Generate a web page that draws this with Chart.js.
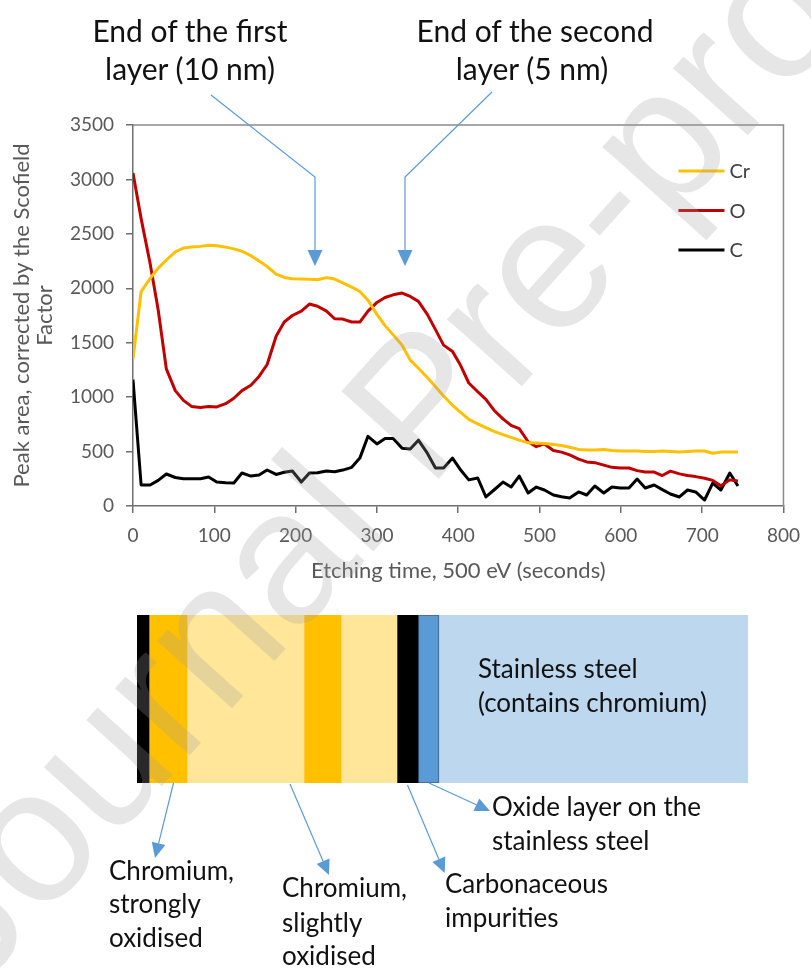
<!DOCTYPE html>
<html><head><meta charset="utf-8">
<script src="https://cdn.jsdelivr.net/npm/chart.js@4.4.1/dist/chart.umd.min.js"></script>
<style>
html,body{margin:0;padding:0;background:#fff;}
#wrap{position:relative;width:811px;height:968px;overflow:hidden;font-family:Lato,sans-serif;color:#111;}
.t{position:absolute;white-space:nowrap;line-height:1;}
.top{font-size:30px;width:360px;text-align:center;}
.low{font-size:26px;}
#wm{position:absolute;left:418px;top:403px;transform:translate(-50%,-50%) rotate(-48deg);font-family:"Liberation Sans",Arial,sans-serif;font-size:190px;line-height:1;white-space:nowrap;color:rgba(157,157,157,0.26);pointer-events:none;z-index:10;}
</style></head><body>
<div id="wrap">
<canvas id="main" width="811" height="600" style="position:absolute;left:0;top:0"></canvas>
<canvas id="layers" width="611" height="168" style="position:absolute;left:137px;top:615px"></canvas>
<svg id="arrows" width="811" height="968" style="position:absolute;left:0;top:0;overflow:visible"></svg>

<div class="t top" style="left:10px;top:15px">End of the first</div>
<div class="t top" style="left:10px;top:53px">layer (10 nm)</div>
<div class="t top" style="left:355px;top:15px">End of the second</div>
<div class="t top" style="left:352px;top:53px">layer (5 nm)</div>

<div class="t low" style="left:478px;top:655px">Stainless steel</div>
<div class="t low" style="left:478px;top:689px">(contains chromium)</div>
<div class="t low" style="left:492px;top:793px">Oxide layer on the</div>
<div class="t low" style="left:492px;top:827px">stainless steel</div>
<div class="t low" style="left:109px;top:857px">Chromium,</div>
<div class="t low" style="left:109px;top:890px">strongly</div>
<div class="t low" style="left:109px;top:924px">oxidised</div>
<div class="t low" style="left:282px;top:874px">Chromium,</div>
<div class="t low" style="left:282px;top:909px">slightly</div>
<div class="t low" style="left:282px;top:942px">oxidised</div>
<div class="t low" style="left:445px;top:870px">Carbonaceous</div>
<div class="t low" style="left:445px;top:904px">impurities</div>

<div id="wm">Journal Pre-proof</div>
</div>
<script>
// ---- data ----
const times = [0,10,21,31,41,52,62,72,83,93,
  103,114,124,134,145,155,165,176,186,196,
  207,217,227,238,248,258,269,279,289,300,
  310,320,331,341,351,362,372,382,393,403,
  413,424,434,444,455,465,475,486,496,506,
  517,527,537,548,558,568,579,589,599,610,
  620,630,641,651,661,672,682,692,703,713,
  723,734,744];
const crArea = [1350,1970,2090,2185,2260,2335,2370,2380,2385,2395,
  2390,2378,2362,2340,2300,2250,2200,2130,2100,2088,
  2085,2082,2078,2098,2085,2050,2010,1970,1890,1760,
  1657,1572,1477,1340,1265,1180,1095,1010,925,860,
  795,755,720,685,655,630,605,580,578,575,
  565,555,540,520,515,515,520,510,505,505,
  505,500,500,505,500,495,500,505,505,485,
  495,495,495];
const oArea = [3060,2640,2230,1800,1260,1060,970,915,905,915,
  910,940,990,1060,1110,1190,1300,1560,1690,1750,
  1790,1855,1835,1790,1720,1717,1690,1690,1790,1870,
  1915,1940,1956,1925,1880,1760,1620,1478,1420,1290,
  1130,1050,980,880,800,740,710,590,545,570,
  510,495,470,430,405,398,375,355,350,349,
  325,312,312,280,320,295,280,270,255,235,
  185,240,230];
const cArea = [1160,193,193,235,294,262,250,250,250,266,
  220,213,211,303,275,285,331,290,310,321,
  220,303,305,321,315,330,355,440,640,570,
  620,620,530,523,605,485,350,350,440,330,
  240,257,83,147,220,174,275,119,174,147,
  101,85,73,129,101,184,119,174,165,165,
  248,165,193,150,110,83,147,129,55,211,
  147,303,184];
const seriesNames = ['Cr','O','C'];
const yTickValues = [0,500,1000,1500,2000,2500,3000,3500];
const xTickValues = [0,100,200,300,400,500,600,700,800];
const layerNames = ['Carbonaceous (surface)','Chromium, strongly oxidised','First layer','Chromium, slightly oxidised','Second layer','Carbonaceous impurities','Oxide layer on the stainless steel','Stainless steel'];
const layerThickness = [12,38,117,37,56,21,21,309];

// ---- styles ----
const seriesColors = ['#FFC000','#C00000','#000000'];
const layerColors = ['#000000','#FFC000','#FFE699','#FFC000','#FFE699','#000000','#5B9BD5','#BDD7EE'];
const axisGrey = '#6f6f6f';
const textGrey = '#595959';

const seriesValues = [crArea, oArea, cArea];

const frame = {
  id:'frame',
  beforeDatasetsDraw(chart){
    const {ctx, chartArea:a} = chart;
    ctx.save();
    ctx.strokeStyle = '#8a8a8a'; ctx.lineWidth = 1.5;
    ctx.beginPath(); ctx.moveTo(a.left, a.top); ctx.lineTo(a.right, a.top); ctx.lineTo(a.right, a.bottom); ctx.stroke();
    ctx.restore();
  }
};
const insideLegend = {
  id:'insideLegend',
  afterDatasetsDraw(chart){
    const {ctx, chartArea:a} = chart;
    ctx.save();
    chart.data.datasets.forEach((ds,i)=>{
      const y = a.top + 46 + i*39.5;
      const x0 = a.right - 105;
      ctx.strokeStyle = ds.borderColor; ctx.lineWidth = 3;
      ctx.beginPath(); ctx.moveTo(x0,y); ctx.lineTo(x0+46,y); ctx.stroke();
      ctx.fillStyle = '#404040'; ctx.font = '20px Lato'; ctx.textBaseline = 'middle'; ctx.textAlign='left';
      ctx.fillText(ds.label, x0+51, y+1);
    });
    ctx.restore();
  }
};

new Chart(document.getElementById('main'), {
  type:'line',
  data:{
    datasets: seriesNames.map((n,i)=>({
      label:n,
      data: times.map((t,j)=>({x:t, y:seriesValues[i][j]})),
      borderColor: seriesColors[i], backgroundColor: seriesColors[i],
      borderWidth:3, pointRadius:0, tension:0, fill:false, borderJoinStyle:'round'
    }))
  },
  options:{
    responsive:false, animation:false, devicePixelRatio:1,
    layout:{padding:{top:125,right:19,left:0,bottom:0}},
    plugins:{legend:{display:false}, tooltip:{enabled:false}},
    scales:{
      x:{type:'linear', min:0, max:800,
        afterBuildTicks:s=>{s.ticks = xTickValues.map(v=>({value:v}));},
        afterFit:s=>{s.height = 94;},
        grid:{drawOnChartArea:false, drawTicks:true, tickLength:7, color:axisGrey, lineWidth:1.5},
        border:{display:true, color:axisGrey, width:1.5},
        ticks:{font:{family:'Lato', size:19}, color:textGrey, padding:11, maxRotation:0, callback:v=>String(v)},
        title:{display:true, text:'Etching time, 500 eV (seconds)', font:{family:'Lato', size:22, lineHeight:1.2}, color:textGrey, padding:{top:0,bottom:16}}
      },
      y:{type:'linear', min:0, max:3500,
        afterBuildTicks:s=>{s.ticks = yTickValues.map(v=>({value:v}));},
        afterFit:s=>{s.width = 133;},
        grid:{drawOnChartArea:false, drawTicks:true, tickLength:7, color:axisGrey, lineWidth:1.5},
        border:{display:true, color:axisGrey, width:1.5},
        ticks:{font:{family:'Lato', size:19}, color:textGrey, padding:12, callback:v=>String(v)},
        title:{display:true, text:['Peak area, corrected by the Scofield','Factor'], font:{family:'Lato', size:22, lineHeight:1.05}, color:textGrey, padding:{top:10,bottom:0}}
      }
    }
  },
  plugins:[frame, insideLegend]
});

const total = layerThickness.reduce((a,b)=>a+b,0);
new Chart(document.getElementById('layers'), {
  type:'bar',
  data:{labels:['layers'], datasets: layerNames.map((n,i)=>({
    label:n, data:[layerThickness[i]], backgroundColor:layerColors[i],
    borderColor:'#41719C', borderWidth: i===6 ? 1.5 : 0, borderSkipped:false,
    barPercentage:1, categoryPercentage:1
  }))},
  options:{
    indexAxis:'y', responsive:false, animation:false, devicePixelRatio:1,
    layout:{padding:0},
    plugins:{legend:{display:false}, tooltip:{enabled:false}},
    scales:{x:{stacked:true, display:false, min:0, max:total}, y:{stacked:true, display:false}}
  }
});

// ---- annotation arrows ----
const svg = document.getElementById('arrows');
const NS = 'http://www.w3.org/2000/svg';
const blue = '#5B9BD5';
function arrow(pts, tip, len, half){
  const prev = pts[pts.length-1];
  const dx = tip[0]-prev[0], dy = tip[1]-prev[1];
  const L = Math.hypot(dx,dy), ux = dx/L, uy = dy/L;
  const bx = tip[0]-ux*len, by = tip[1]-uy*len;
  const line = document.createElementNS(NS,'polyline');
  line.setAttribute('points', pts.concat([[bx,by]]).map(p=>p.join(',')).join(' '));
  line.setAttribute('fill','none'); line.setAttribute('stroke',blue); line.setAttribute('stroke-width','1.2');
  svg.appendChild(line);
  const head = document.createElementNS(NS,'polygon');
  head.setAttribute('points', [[tip[0],tip[1]],[bx-uy*half, by+ux*half],[bx+uy*half, by-ux*half]].map(p=>p.join(',')).join(' '));
  head.setAttribute('fill',blue);
  svg.appendChild(head);
}
arrow([[211,95],[315,177]], [315,266], 16, 7.5);
arrow([[492,92],[405,177]], [405,266], 16, 7.5);
arrow([[173.5,783]], [155,858], 15, 7);
arrow([[290,784]], [329,875], 15, 7);
arrow([[407.5,785]], [444.7,873], 15, 7);
arrow([[429,783]], [490,811], 15, 7);
</script>
</body></html>
